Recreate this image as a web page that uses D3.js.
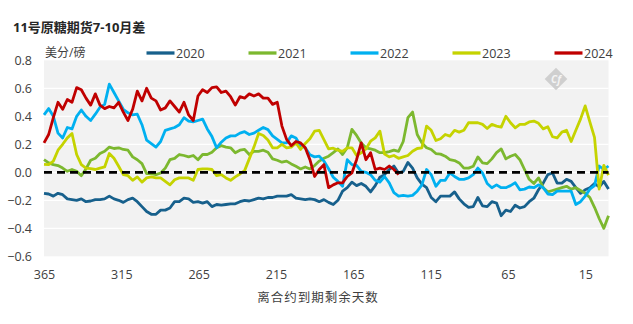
<!DOCTYPE html>
<html>
<head>
<meta charset="utf-8">
<script src="https://cdn.jsdelivr.net/npm/d3@7/dist/d3.min.js"></script>
<style>
  html, body { margin: 0; padding: 0; background: #ffffff; }
  svg { display: block; }
  text { font-family: "Open Sans", "Noto Sans CJK SC", sans-serif; }
</style>
</head>
<body>
<svg id="chart" width="633" height="324"></svg>
<script>
// Days remaining to expiry: series are sampled evenly from 365 down to 0
const firstDay = 365;
const lastDay = 0;
const xTicks = [365, 315, 265, 215, 165, 115, 65, 15];
const yTicks = [-0.6, -0.4, -0.2, 0, 0.2, 0.4, 0.6, 0.8];
const seriesNames = ["2020", "2021", "2022", "2023", "2024"];
const seriesColors = ["#17608c", "#7cb82f", "#00b0f0", "#c5d300", "#c00000"];

// Spread (US cents/lb), one value per sampling step
const v2020 = [
  -0.15,-0.155,-0.17,-0.15,-0.16,-0.19,-0.195,-0.20,-0.19,-0.21,
  -0.205,-0.195,-0.195,-0.19,-0.17,-0.19,-0.20,-0.215,-0.195,-0.185,
  -0.21,-0.245,-0.28,-0.30,-0.30,-0.27,-0.27,-0.255,-0.21,-0.21,
  -0.185,-0.19,-0.215,-0.21,-0.22,-0.21,-0.245,-0.23,-0.235,-0.23,
  -0.225,
  -0.225,-0.21,-0.20,-0.205,-0.195,-0.185,-0.19,-0.18,-0.18,-0.17,
  -0.17,-0.17,-0.16,-0.185,-0.19,-0.195,-0.19,-0.195,-0.21,-0.195,
  -0.215,-0.23,-0.20,-0.135,-0.11,-0.07,-0.095,-0.08,-0.10,-0.14,
  -0.095,-0.035,-0.017,0.02,0.045,-0.005,0.007,0.07,0.03,-0.04,
  -0.085,-0.11,-0.18,-0.21,-0.17,-0.17,-0.17,-0.14,-0.19,-0.225,
  -0.25,-0.245,-0.18,-0.24,-0.245,-0.21,-0.22,-0.31,-0.27,-0.28,
  -0.235,-0.255,-0.245,-0.21,-0.185,-0.125,-0.077,-0.017,-0.005,-0.077,
  -0.077,-0.05,-0.065,-0.11,-0.15,-0.125,-0.11,-0.08,-0.105,-0.065,
  -0.12
];
const v2021 = [
  0.09,0.067,0.055,0.048,0.03,0.007,0.02,0.007,-0.024,0.024,
  0.086,0.10,0.134,0.15,0.18,0.17,0.175,0.163,0.158,0.11,
  0.09,0.062,-0.01,-0.01,-0.017,-0.005,0.03,0.09,0.10,0.127,
  0.12,0.11,0.12,0.09,0.127,0.127,0.143,0.175,0.19,0.18,
  0.175,
  0.14,0.158,0.163,0.127,0.15,0.15,0.158,0.143,0.096,0.086,
  0.072,0.08,0.06,0.043,0.024,0.038,0.024,0.048,0.08,0.10,
  0.115,0.14,0.167,0.127,0.175,0.306,0.263,0.21,0.175,0.167,
  0.158,0.14,0.14,0.148,0.158,0.15,0.22,0.39,0.43,0.27,
  0.21,0.175,0.163,0.134,0.13,0.115,0.09,0.084,0.067,0.03,
  0.03,0.043,0.11,0.067,0.062,0.096,0.14,0.167,0.096,0.115,
  0.127,0.09,0.02,-0.05,-0.08,-0.04,-0.11,-0.14,-0.13,-0.12,
  -0.11,-0.10,-0.12,-0.11,-0.13,-0.15,-0.18,-0.25,-0.33,-0.40,
  -0.31
];
const v2022 = [
  0.41,0.455,0.40,0.28,0.245,0.32,0.31,0.40,0.445,0.40,
  0.37,0.415,0.465,0.485,0.63,0.57,0.51,0.45,0.425,0.41,
  0.415,0.34,0.23,0.205,0.18,0.22,0.30,0.31,0.32,0.34,
  0.39,0.365,0.36,0.37,0.38,0.31,0.255,0.175,0.215,0.245,
  0.26,
  0.26,0.28,0.29,0.27,0.28,0.30,0.32,0.305,0.26,0.235,
  0.21,0.21,0.26,0.245,0.19,0.175,0.125,0.11,0.115,0.08,
  0.025,-0.035,-0.065,-0.10,0.09,0.055,0.05,0.007,0.0,-0.017,
  -0.057,-0.07,-0.03,-0.075,-0.145,-0.17,-0.165,-0.17,-0.165,-0.135,
  -0.09,0.02,-0.017,-0.10,-0.057,-0.057,-0.005,-0.03,-0.05,-0.05,
  -0.04,-0.017,0.03,-0.005,-0.08,-0.11,-0.09,-0.11,-0.11,-0.095,
  -0.075,-0.125,-0.12,-0.105,-0.11,-0.09,-0.11,-0.155,-0.16,-0.135,
  -0.135,-0.135,-0.135,-0.23,-0.21,-0.17,-0.12,-0.095,0.045,0.02,
  0.045
];
const v2023 = [
  0.057,0.055,0.08,0.158,0.20,0.246,0.277,0.127,0.055,0.03,
  0.026,0.02,0.03,0.038,0.134,0.10,0.043,-0.017,-0.024,-0.057,
  -0.033,-0.07,-0.04,-0.033,-0.04,-0.04,-0.065,-0.09,-0.053,-0.04,
  -0.04,-0.04,-0.057,0.02,0.024,0.024,0.02,-0.024,-0.017,-0.04,
  -0.057,
  -0.033,-0.012,0.012,0.096,0.18,0.277,0.263,0.23,0.175,0.175,
  0.2,0.175,0.18,0.21,0.163,0.206,0.24,0.294,0.30,0.234,
  0.167,0.172,0.158,0.15,0.175,0.175,0.12,0.139,0.167,0.222,
  0.246,0.294,0.13,0.11,0.12,0.10,0.11,0.12,0.15,0.17,
  0.175,0.33,0.30,0.227,0.24,0.27,0.258,0.30,0.287,0.30,
  0.354,0.354,0.354,0.342,0.313,0.342,0.33,0.323,0.40,0.354,
  0.318,0.342,0.342,0.36,0.366,0.35,0.31,0.325,0.254,0.246,
  0.287,0.30,0.22,0.30,0.38,0.474,0.36,0.25,-0.12,0.05,
  -0.02
];
const v2024 = [
  0.21,0.27,0.39,0.50,0.45,0.52,0.50,0.605,0.59,0.53,
  0.48,0.56,0.48,0.455,0.47,0.46,0.50,0.43,0.37,0.45,
  0.58,0.51,0.60,0.53,0.51,0.445,0.46,0.51,0.47,0.43,
  0.50,0.41,0.37,0.545,0.59,0.57,0.605,0.61,0.57,0.58,
  0.54,
  0.48,0.54,0.53,0.56,0.545,0.56,0.53,0.53,0.485,0.50,
  0.33,0.235,0.19,0.22,0.21,0.175,0.09,-0.03,0.02,0.055,
  -0.11,-0.09,-0.075,-0.075,-0.03,-0.005,0.09,0.21,0.09,0.14,
  0.02,0.03,0.02,0.045,0.02,-0.017
];
const seriesValues = [v2020, v2021, v2022, v2023, v2024];

const svg = d3.select("#chart");
const W = 633, H = 324;
const plot = { left: 44, right: 608.5, top: 60.3, bottom: 256.3 };

svg.append("rect").attr("width", W).attr("height", H).attr("fill", "#ffffff");

const x = d3.scaleLinear().domain([firstDay, lastDay]).range([plot.left, plot.right]);
const y = d3.scaleLinear().domain([-0.6, 0.8]).range([plot.bottom, plot.top]);

// Plot background
svg.append("rect")
  .attr("x", plot.left).attr("y", plot.top)
  .attr("width", plot.right - plot.left).attr("height", plot.bottom - plot.top)
  .attr("fill", "#f2f2f2");

// Horizontal white gridlines
svg.append("g").selectAll("line")
  .data(yTicks.filter(t => t > -0.6 && t < 0.8))
  .join("line")
  .attr("x1", plot.left).attr("x2", plot.right)
  .attr("y1", d => y(d)).attr("y2", d => y(d))
  .attr("stroke", "#ffffff").attr("stroke-width", 1.2);

// Watermark badge
const badge = svg.append("g").attr("transform", "translate(556,79)");
badge.append("rect")
  .attr("x", -8).attr("y", -8).attr("width", 16).attr("height", 16)
  .attr("transform", "rotate(45)")
  .attr("fill", "#cfcfcf");
badge.append("text")
  .attr("text-anchor", "middle").attr("dy", "0.35em")
  .attr("font-size", 10).attr("font-style", "italic").attr("font-weight", "bold")
  .attr("fill", "#f4f4f4")
  .text("Cf");

// Series lines
const step = (firstDay - lastDay) / (v2020.length - 1);
const line = d3.line()
  .x((d, i) => x(firstDay - i * step))
  .y(d => y(d));

svg.append("g").selectAll("path")
  .data(seriesValues)
  .join("path")
  .attr("d", d => line(d))
  .attr("fill", "none")
  .attr("stroke", (d, i) => seriesColors[i])
  .attr("stroke-width", 2.8)
  .attr("stroke-linejoin", "round");

// Zero reference line
svg.append("line")
  .attr("x1", plot.left).attr("x2", plot.right)
  .attr("y1", y(0)).attr("y2", y(0))
  .attr("stroke", "#000000").attr("stroke-width", 2.8)
  .attr("stroke-dasharray", "8,5");

// Axes
const xAxis = d3.axisBottom(x).tickValues(xTicks).tickSize(0).tickPadding(13.4);
const gx = svg.append("g").attr("transform", `translate(0,${plot.bottom})`).call(xAxis);
gx.select(".domain").remove();
gx.selectAll("text").attr("font-size", 12.5).attr("fill", "#404040")
  .style("font-family", "'Open Sans', sans-serif");

const yAxis = d3.axisLeft(y).tickValues(yTicks).tickSize(0).tickPadding(12)
  .tickFormat(d3.format(".1f"));
const gy = svg.append("g").attr("transform", `translate(${plot.left},0)`).call(yAxis);
gy.select(".domain").remove();
gy.selectAll("text").attr("font-size", 12.5).attr("fill", "#404040")
  .style("font-family", "'Open Sans', sans-serif");

// Title and axis labels
svg.append("text")
  .attr("x", 13).attr("y", 32)
  .attr("font-size", 13).attr("font-weight", "bold").attr("fill", "#262626")
  .text("11号原糖期货7-10月差");

svg.append("text")
  .attr("x", 45).attr("y", 57)
  .attr("font-size", 12).attr("fill", "#404040")
  .text("美分/磅");

svg.append("text")
  .attr("x", 318).attr("y", 302)
  .attr("text-anchor", "middle")
  .attr("font-size", 12.5).attr("letter-spacing", 1).attr("fill", "#404040")
  .text("离合约到期剩余天数");

// Legend
const legend = svg.append("g").selectAll("g")
  .data(seriesNames)
  .join("g")
  .attr("transform", (d, i) => `translate(${146.5 + i * 102},53)`);
legend.append("line")
  .attr("x1", 0).attr("x2", 28).attr("y1", 0).attr("y2", 0)
  .attr("stroke", (d, i) => seriesColors[i]).attr("stroke-width", 3.3);
legend.append("text")
  .attr("x", 29.5).attr("dy", "0.36em")
  .attr("font-size", 12.5).attr("fill", "#404040")
  .style("font-family", "'Open Sans', sans-serif")
  .text(d => d);
</script>
</body>
</html>
